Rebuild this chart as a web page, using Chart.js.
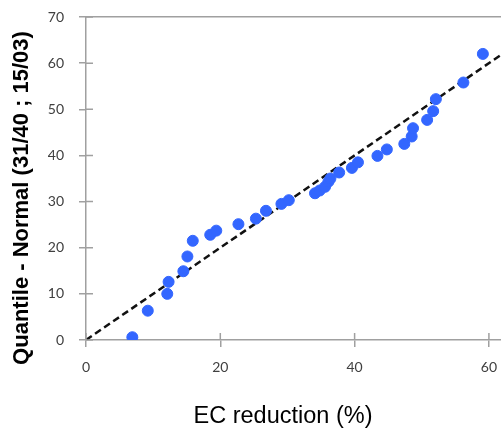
<!DOCTYPE html>
<html>
<head>
<meta charset="utf-8">
<script src="https://cdn.jsdelivr.net/npm/chart.js@4"></script>
<style>
  body { margin: 0; background: #fff; }
</style>
</head>
<body>
<canvas id="myChart" width="501" height="429"></canvas>
<script>
// EC reduction (%) vs normal quantile
const ecReduction = [6.9, 9.2, 12.1, 12.3, 14.5, 15.1, 15.9, 18.5, 19.4, 22.7, 25.3, 26.8, 29.1, 30.2, 34.1, 34.8,
  35.6, 36.1, 36.4, 37.7, 39.6, 40.5, 43.4, 44.8, 47.4, 48.5, 48.7, 50.8, 51.7, 52.1, 56.2, 59.1];
const quantile = [0.6, 6.35, 10.0, 12.6, 14.9, 18.1, 21.5, 22.8, 23.7, 25.1, 26.3, 28.0, 29.5, 30.3, 31.8, 32.4,
  33.2, 34.3, 35.0, 36.3, 37.3, 38.5, 39.9, 41.3, 42.5, 44.1, 45.9, 47.7, 49.6, 52.2, 55.8, 62.0];
const refLine = [0, 62]; // 1:1 line
const xTicks = [0, 20, 40, 60];
const yTicks = [0, 10, 20, 30, 40, 50, 60, 70];
const xTitle = 'EC reduction (%)';
const yTitle = 'Quantile - Normal (31/40 ; 15/03)';

const axisGrey = '#a0a0a0';

// kill the auto padding chart.js adds for overflowing tick labels
function noPad(s) {
  s.paddingTop = 0;
  s.paddingBottom = 0;
  s.paddingLeft = 0;
  s.paddingRight = 0;
}

// tick marks crossing the axis and the axis titles
const crossTicks = {
  id: 'crossTicks',
  afterDraw(chart) {
    const c = chart.ctx;
    const xs = chart.scales.x, ys = chart.scales.y;
    const area = chart.chartArea;
    c.save();
    c.strokeStyle = axisGrey;
    c.lineWidth = 1.5;
    c.beginPath();
    xTicks.forEach(v => {
      const px = xs.getPixelForValue(v);
      c.moveTo(px, area.bottom);
      c.lineTo(px, area.bottom - 7);
    });
    yTicks.forEach(v => {
      const py = ys.getPixelForValue(v);
      c.moveTo(area.left, py);
      c.lineTo(area.left + 7, py);
    });
    c.stroke();

    c.fillStyle = '#000';
    c.textAlign = 'center';
    c.textBaseline = 'alphabetic';
    c.font = '23.5px "Liberation Sans", Arial, sans-serif';
    c.fillText(xTitle, 283, 423);
    c.translate(28, 198);
    c.rotate(-Math.PI / 2);
    c.font = 'bold 22px "Liberation Sans", Arial, sans-serif';
    c.fillText(yTitle, 0, 0);
    c.restore();
  }
};

const ctx = document.getElementById('myChart').getContext('2d');
const chart = new Chart(ctx, {
  data: {
    datasets: [
      {
        type: 'scatter',
        data: ecReduction.map((v, i) => ({ x: v, y: quantile[i] })),
        backgroundColor: '#3366ff',
        borderColor: '#3366ff',
        pointRadius: 5.5,
        pointHoverRadius: 5.5,
        order: 1,
      },
      {
        type: 'line',
        data: refLine.map(v => ({ x: v, y: v })),
        borderColor: '#111',
        borderWidth: 2.5,
        borderDash: [7, 4],
        pointRadius: 0,
        fill: false,
        order: 2,
      },
    ],
  },
  options: {
    responsive: false,
    animation: false,
    layout: { padding: 0, autoPadding: false },
    plugins: {
      legend: { display: false },
      tooltip: { enabled: false },
    },
    scales: {
      x: {
        type: 'linear',
        min: 0,
        max: 61.8,
        afterBuildTicks: s => { s.ticks = xTicks.map(v => ({ value: v })); },
        afterFit: s => { s.height = 89; noPad(s); },
        border: { color: axisGrey, width: 1.5 },
        grid: { drawOnChartArea: false, tickLength: 7, color: axisGrey, lineWidth: 1.5 },
        ticks: { color: '#404040', font: { family: 'Lato', size: 14 }, padding: 12, maxRotation: 0 },
      },
      xTop: {
        type: 'linear',
        position: 'top',
        min: 0,
        max: 61.8,
        afterFit: s => { s.height = 17; noPad(s); },
        border: { color: axisGrey, width: 1.5 },
        grid: { display: false },
        ticks: { display: false },
      },
      y: {
        min: 0,
        max: 70,
        afterBuildTicks: s => { s.ticks = yTicks.map(v => ({ value: v })); },
        afterFit: s => { s.width = 86; noPad(s); },
        border: { color: axisGrey, width: 1.5 },
        grid: { drawOnChartArea: false, tickLength: 7, color: axisGrey, lineWidth: 1.5 },
        ticks: { color: '#404040', font: { family: 'Lato', size: 14 }, padding: 15 },
      },
    },
  },
  plugins: [crossTicks],
});
</script>
</body>
</html>
